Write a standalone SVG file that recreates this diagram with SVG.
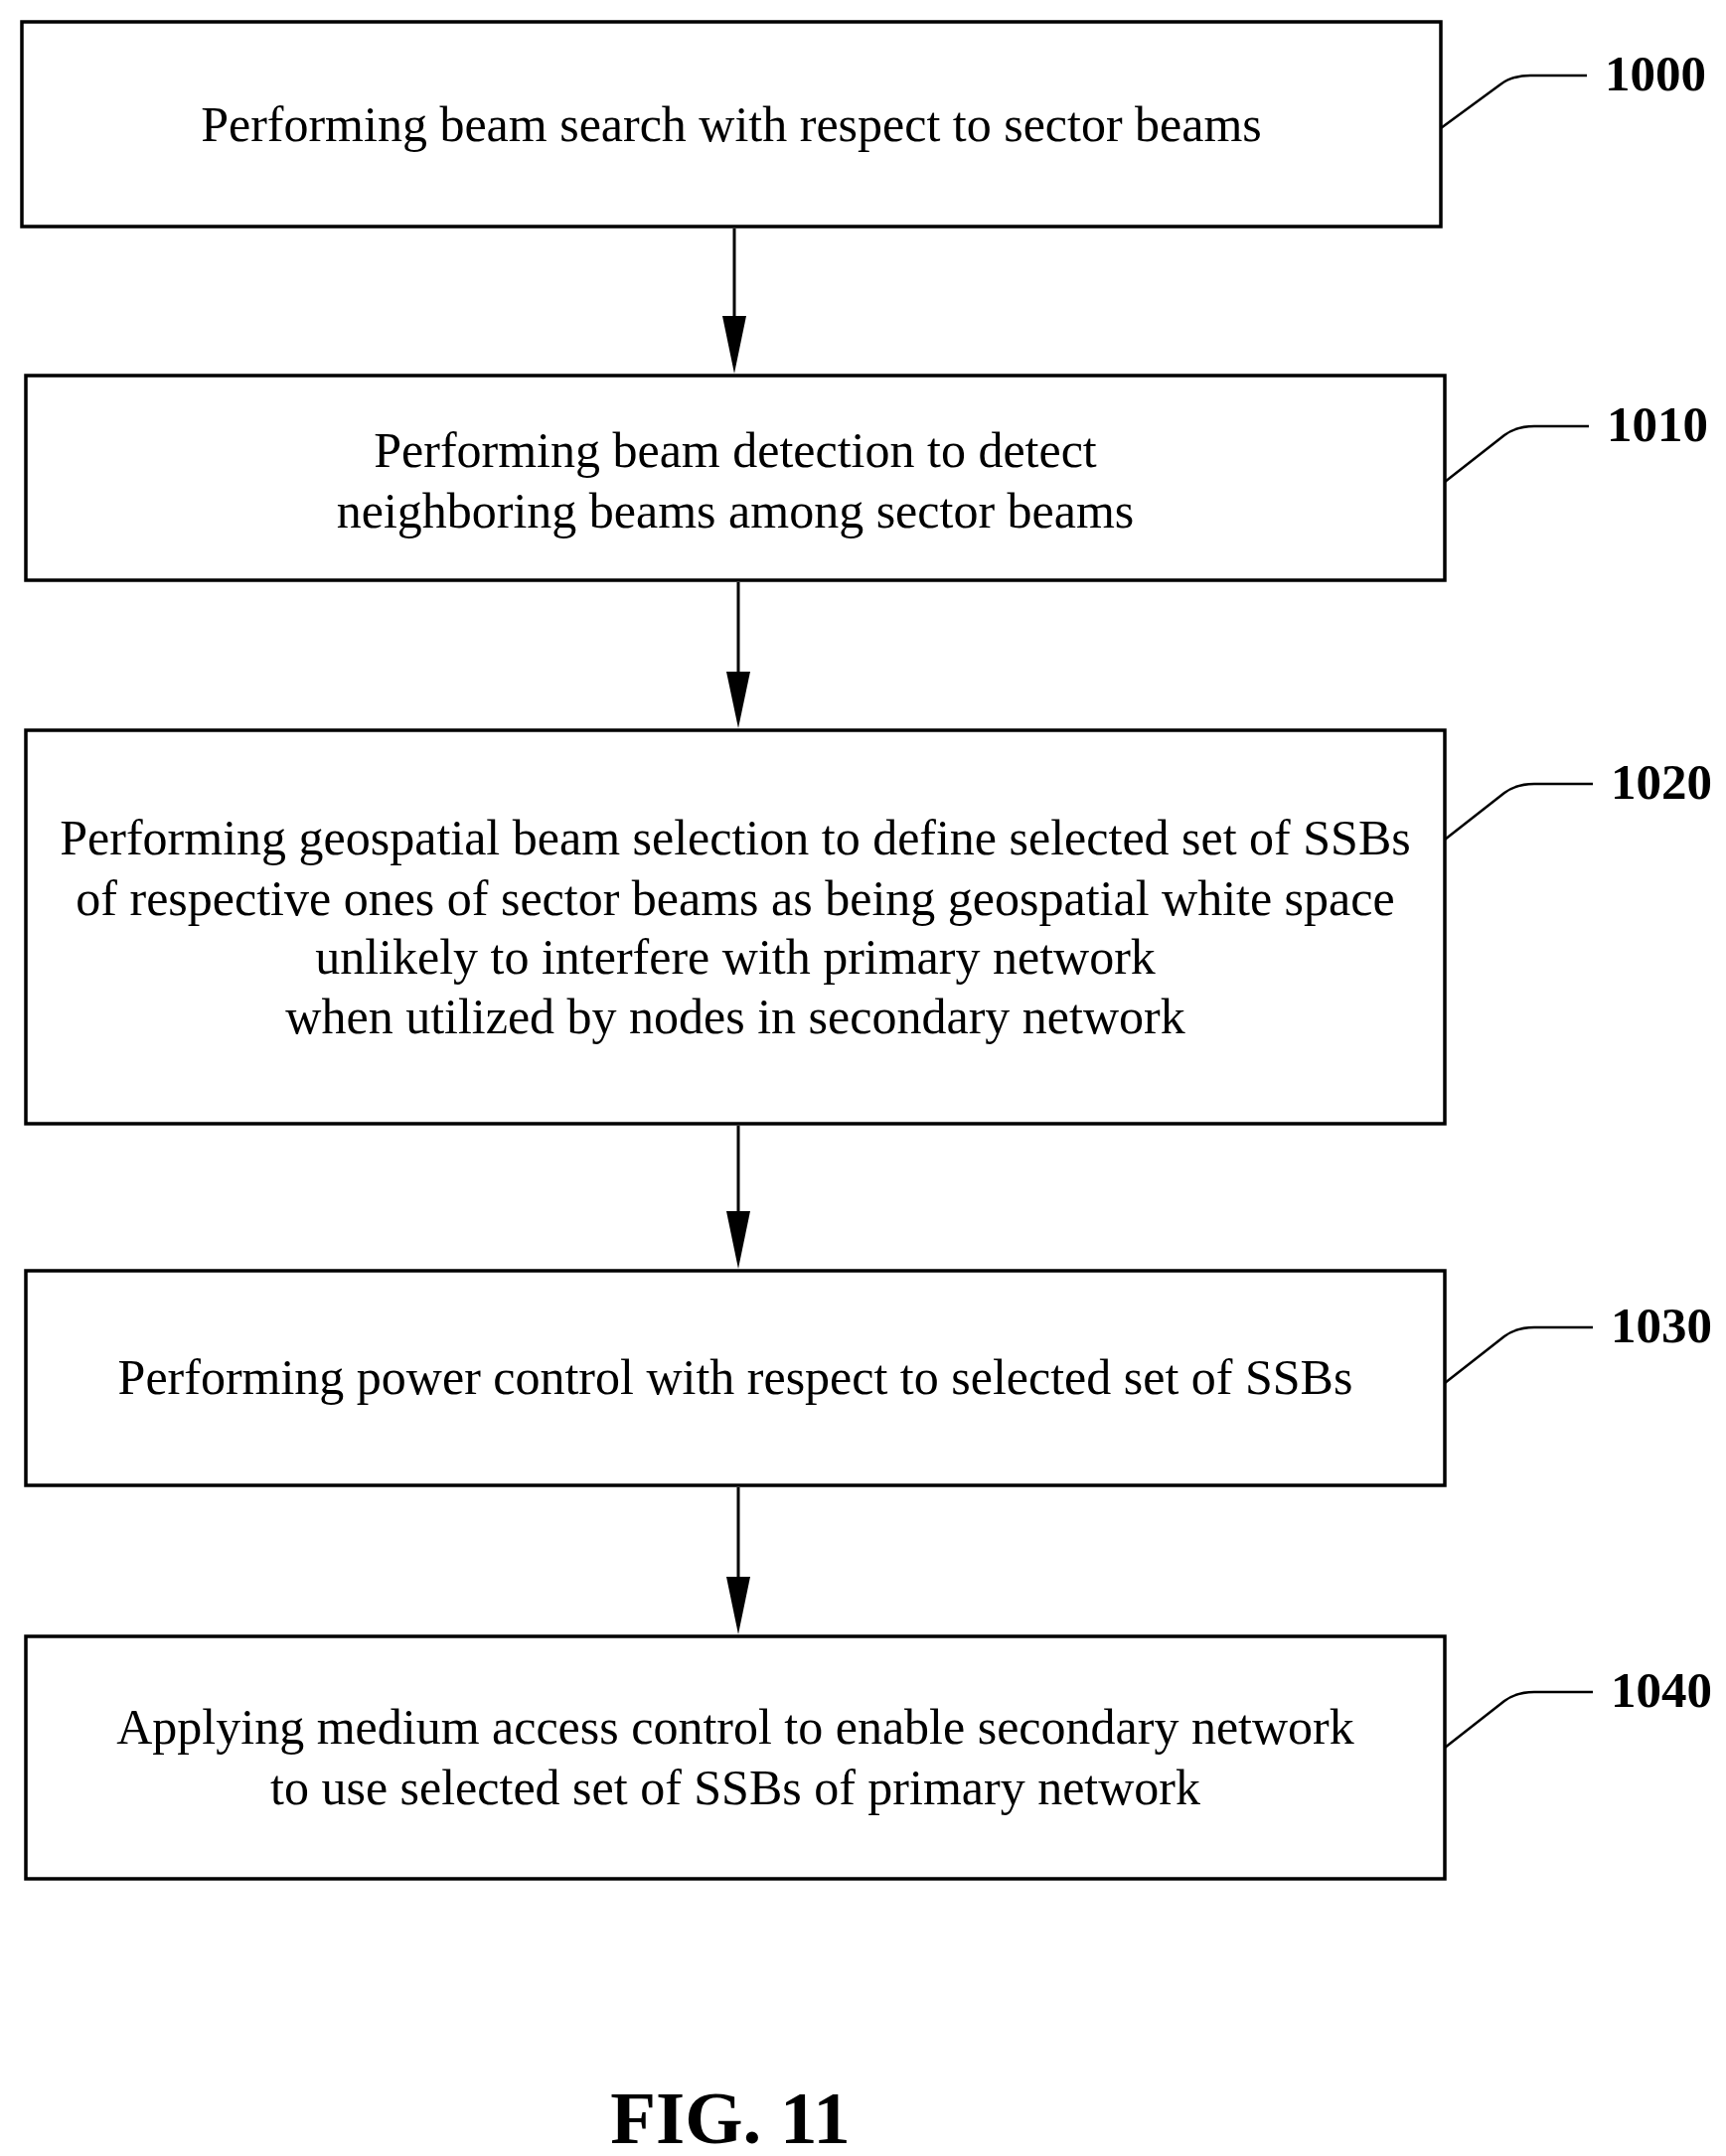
<svg xmlns="http://www.w3.org/2000/svg" width="1737" height="2170" viewBox="0 0 1737 2170">
<style>
rect{fill:#fff;stroke:#000;stroke-width:3.5}
text{font-family:"Liberation Serif",serif;fill:#000}
.t{font-size:50px;text-anchor:middle;dominant-baseline:central}
.n{font-size:51px;font-weight:bold;dominant-baseline:central}
.l{fill:none;stroke:#000;stroke-width:2.5}
.c{stroke:#000;stroke-width:3}
</style>
<rect width="1737" height="2170" style="stroke:none"/>
<g id="connectors">
<line class="c" x1="739" y1="230" x2="739" y2="320"/><path d="M727,318L751,318L739,376z"/>
<line class="c" x1="743" y1="586" x2="743" y2="680"/><path d="M731,676L755,676L743,733z"/>
<line class="c" x1="743" y1="1133" x2="743" y2="1225"/><path d="M731,1219L755,1219L743,1277z"/>
<line class="c" x1="743" y1="1497" x2="743" y2="1590"/><path d="M731,1587L755,1587L743,1645z"/>
</g>
<g id="n1000"><rect x="22" y="22" width="1428" height="206"/><text class="t" x="736" y="125">Performing beam search with respect to sector beams</text>
<path class="l" d="M1450,129L1510,85Q1522,76 1540,76L1597,76"/><text class="n" x="1615" y="74">1000</text></g>
<g id="n1010"><rect x="26" y="378" width="1428" height="206"/><text class="t" x="740" y="453">Performing beam detection to detect</text><text class="t" x="740" y="514">neighboring beams among sector beams</text>
<path class="l" d="M1454,485L1514,438Q1526,429 1544,429L1599,429"/><text class="n" x="1617" y="427">1010</text></g>
<g id="n1020"><rect x="26" y="735" width="1428" height="396"/><text class="t" x="740" y="843">Performing geospatial beam selection to define selected set of SSBs</text><text class="t" x="740" y="904">of respective ones of sector beams as being geospatial white space</text><text class="t" x="740" y="963">unlikely to interfere with primary network</text><text class="t" x="740" y="1023">when utilized by nodes in secondary network</text>
<path class="l" d="M1454,845L1514,798Q1526,789 1544,789L1603,789"/><text class="n" x="1621" y="787">1020</text></g>
<g id="n1030"><rect x="26" y="1279" width="1428" height="216"/><text class="t" x="740" y="1386">Performing power control with respect to selected set of SSBs</text>
<path class="l" d="M1454,1392L1514,1345Q1526,1336 1544,1336L1603,1336"/><text class="n" x="1621" y="1334">1030</text></g>
<g id="n1040"><rect x="26" y="1647" width="1428" height="244"/><text class="t" x="740" y="1738">Applying medium access control to enable secondary network</text><text class="t" x="740" y="1799">to use selected set of SSBs of primary network</text>
<path class="l" d="M1454,1759L1514,1712Q1526,1703 1544,1703L1603,1703"/><text class="n" x="1621" y="1701">1040</text></g>
<text x="735" y="2131" style="font-size:75px;font-weight:bold;text-anchor:middle;dominant-baseline:central">FIG. 11</text>
</svg>
